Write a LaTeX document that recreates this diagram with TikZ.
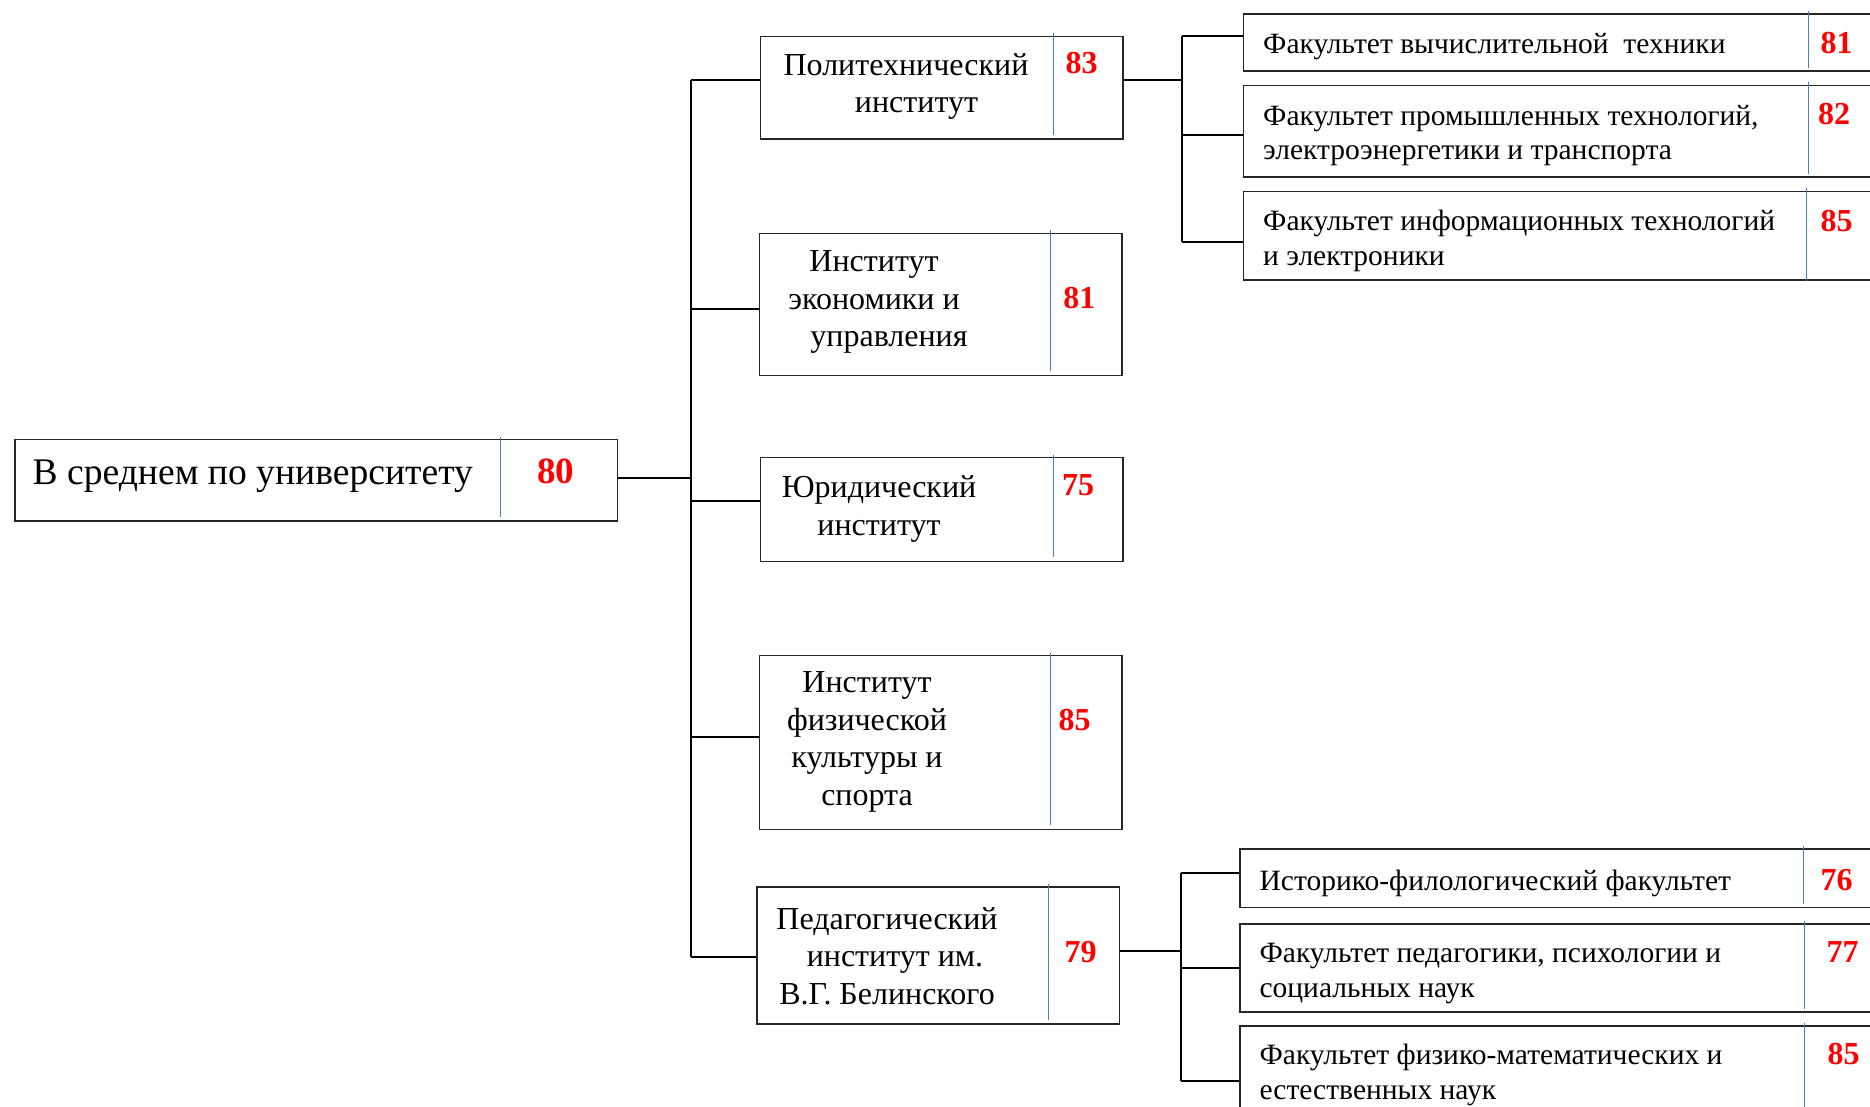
\documentclass[tikz,border=0pt]{standalone}
\usepackage{fontspec}
\setmainfont{Liberation Serif}
\definecolor{divblue}{HTML}{4A7CC4}
\definecolor{numred}{HTML}{FF0000}
\begin{document}
\begin{tikzpicture}[x=1pt,y=-1pt,
  box/.style={draw=black!85,line width=1.5pt,rectangle,inner sep=0pt,anchor=north west},
  divline/.style={draw=divblue,line width=1pt},
  conn/.style={draw=black,line width=2pt},
  roottxt/.style={inner sep=0pt,font=\fontsize{37.6}{45}\selectfont},
  midtxt/.style={inner sep=0pt,align=center,font=\fontsize{32}{37.4}\selectfont},
  facttxt/.style={inner sep=0pt,align=left,anchor=west,font=\fontsize{29.5}{34.6}\selectfont},
  bignum/.style={inner sep=0pt,text=numred,font=\fontsize{37}{44}\selectfont\bfseries},
  num/.style={inner sep=0pt,text=numred,font=\fontsize{32}{38}\selectfont\bfseries}]
\clip (0,0) rectangle (1870,1107);
\fill[white] (0,0) rectangle (1870,1107);

% root
\node[box,minimum width=602.3pt,minimum height=81.1pt] (root) at (14.3,438.9) {};
\draw[divline] (500.9,436.5) -- (500.9,517);
\node[roottxt] (roott) at (252.8,476) {В среднем по университету};
\node[bignum] (rootn) at (555.8,471) {80};

% institutes
\node[box,minimum width=362.5pt,minimum height=102.5pt] (b1) at (759.7,35.8) {};
\draw[divline] (1053,33.5) -- (1053,135);
\node[midtxt] (b1t) at (906,86.5) {Политехнический\\\hspace*{21pt}институт};
\node[num] (b1n) at (1081.7,63.2) {83};

\node[box,minimum width=362.5pt,minimum height=141.9pt] (b2) at (758.5,232.6) {};
\draw[divline] (1050.7,230.5) -- (1050.7,371);
\node[midtxt] (b2t) at (874,302) {Институт\\экономики и\\\hspace*{30pt}управления};
\node[num] (b2n) at (1079.3,298.2) {81};

\node[box,minimum width=362.5pt,minimum height=103.7pt] (b3) at (759.7,456.8) {};
\draw[divline] (1053,454.5) -- (1053,557);
\node[midtxt] (b3t) at (879,509) {Юридический\\институт};
\node[num] (b3n) at (1078,485.4) {75};

\node[box,minimum width=362.5pt,minimum height=174.2pt] (b4) at (758.5,654.7) {};
\draw[divline] (1050.7,652.5) -- (1050.7,825);
\node[midtxt] (b4t) at (867,742) {Институт\\физической\\культуры и\\спорта};
\node[num] (b4n) at (1074.5,720.3) {85};

\node[box,minimum width=362.6pt,minimum height=137.2pt] (b5) at (756.1,886.1) {};
\draw[divline] (1048.3,884) -- (1048.3,1020);
\node[midtxt] (b5t) at (887,956) {Педагогический\\\hspace*{16pt}институт им.\\В.Г. Белинского};
\node[num] (b5n) at (1080.5,951.7) {79};

% faculties (upper)
\node[box,minimum width=700pt,minimum height=57.3pt] (f1) at (1242.7,13.1) {};
\draw[divline] (1808,11) -- (1808,68);
\node[facttxt] (f1t) at (1263,46.6) {Факультет вычислительной\ \ техники};
\node[num] (f1n) at (1836.6,42.9) {81};

\node[box,minimum width=700pt,minimum height=91.8pt] (f2) at (1242.7,84.7) {};
\draw[divline] (1808,82.5) -- (1808,174);
\node[facttxt] (f2t) at (1263,135.5) {Факультет промышленных технологий,\\электроэнергетики и транспорта};
\node[num] (f2n) at (1834.2,114.5) {82};

\node[box,minimum width=700pt,minimum height=88.3pt] (f3) at (1242.7,190.8) {};
\draw[divline] (1806.8,188.5) -- (1806.8,281);
\node[facttxt] (f3t) at (1263,241) {Факультет информационных технологий\\и электроники};
\node[num] (f3n) at (1836.6,220.6) {85};

% faculties (lower)
\node[box,minimum width=700pt,minimum height=58.4pt] (g1) at (1239.1,848.3) {};
\draw[divline] (1803,846) -- (1803,904);
\node[facttxt] (g1t) at (1259.4,883.8) {Историко-филологический факультет};
\node[num] (g1n) at (1836.6,880.1) {76};

\node[box,minimum width=700pt,minimum height=87.7pt] (g2) at (1239.1,923.3) {};
\draw[divline] (1804.4,921) -- (1804.4,1009);
\node[facttxt] (g2t) at (1259.4,973.3) {Факультет педагогики, психологии и\\социальных наук};
\node[num] (g2n) at (1842.5,951.7) {77};

\node[box,minimum width=700pt,minimum height=200pt] (g3) at (1239.1,1025) {};
\draw[divline] (1804.4,1023) -- (1804.4,1120);
\node[facttxt] (g3t) at (1259.4,1074.7) {Факультет физико-математических и\\естественных наук};
\node[num] (g3n) at (1843.7,1054.3) {85};

% trunk connectors
\coordinate (rj) at (690.5,478.2);
\coordinate (t1) at (690.5,79.9);
\coordinate (t2) at (690.5,308.9);
\coordinate (t3) at (690.5,500.9);
\coordinate (t4) at (690.5,737);
\coordinate (t5) at (690.5,956.5);
\draw[conn] (root.east |- rj) -- (rj);
\draw[conn] (t1) -- (t5);
\draw[conn] (t1) -- (t1 -| b1.west);
\draw[conn] (t2) -- (t2 -| b2.west);
\draw[conn] (t3) -- (t3 -| b3.west);
\draw[conn] (t4) -- (t4 -| b4.west);
\draw[conn] (t5) -- (t5 -| b5.west);

% upper group
\coordinate (ua) at (1181.9,79.9);
\coordinate (u1) at (1181.9,35.8);
\coordinate (u2) at (1181.9,134.8);
\coordinate (u3) at (1181.9,242.1);
\draw[conn] (b1.east |- ua) -- (ua);
\draw[conn] (u1) -- (u3);
\draw[conn] (u1) -- (u1 -| f1.west);
\draw[conn] (u2) -- (u2 -| f2.west);
\draw[conn] (u3) -- (u3 -| f3.west);

% lower group
\coordinate (la) at (1180.7,950.5);
\coordinate (l1) at (1180.7,873);
\coordinate (l2) at (1180.7,968.4);
\coordinate (l3) at (1180.7,1080.5);
\draw[conn] (b5.east |- la) -- (la);
\draw[conn] (l1) -- (l3);
\draw[conn] (l1) -- (l1 -| g1.west);
\draw[conn] (l2) -- (l2 -| g2.west);
\draw[conn] (l3) -- (l3 -| g3.west);
\end{tikzpicture}
\end{document}
